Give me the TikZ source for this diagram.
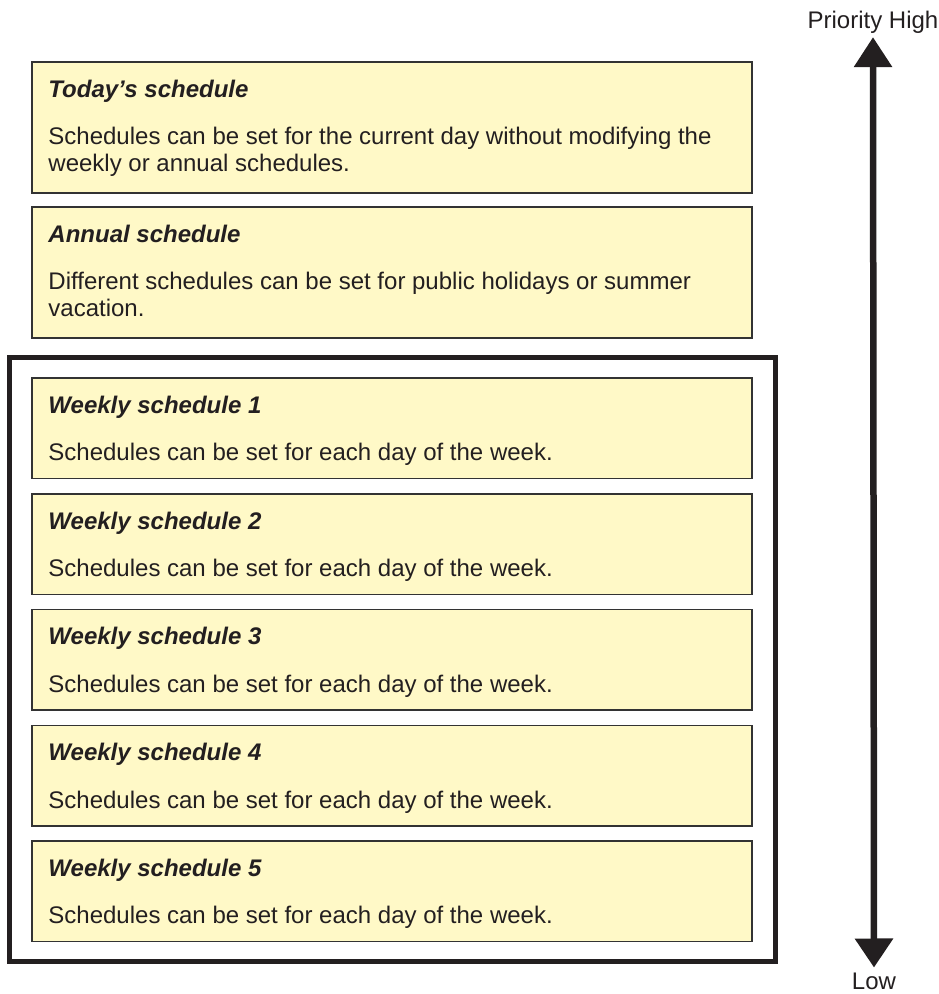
\documentclass[tikz,border=0pt]{standalone}
\usepackage{fontspec}
\setmainfont{Liberation Sans}
\usepackage{xcolor}
\usepackage{tikz}
\usetikzlibrary{arrows.meta, positioning}
\definecolor{boxfill}{RGB}{255,249,199}
\definecolor{boxline}{RGB}{51,51,51}
\definecolor{inkcolor}{RGB}{35,31,32}
\newcommand{\bodyfont}{\fontsize{24}{27}\selectfont}
\newcommand{\titlefont}{\fontsize{24}{27}\selectfont\bfseries\itshape}
\tikzset{
    boxnode/.style = {draw=boxline, fill=boxfill, rectangle, line width=1.5pt, minimum width=720pt, 
      inner sep=0em, node distance=0em},
    framenode/.style = {draw=inkcolor, fill=none, rectangle, line width=4.5pt, inner sep=0em, 
      minimum width=766pt, minimum height=604pt},
    titlenode/.style = {draw=none, fill=none, rectangle, inner sep=0em, anchor=base west, 
      text=inkcolor, font=\titlefont},
    textnode/.style = {draw=none, fill=none, rectangle, inner sep=0em, anchor=base west, 
      align=left, text=inkcolor, font=\bodyfont},
    labelnode/.style = {draw=none, fill=none, rectangle, inner sep=0em, anchor=base, 
      text=inkcolor, font=\bodyfont},
    priority/.style = {draw=inkcolor, line width=6.5pt, 
      {Triangle[length=30pt, width=37pt]}-{Triangle[length=29pt, width=37pt]}}
}

\begin{document}
\begin{tikzpicture}
\useasboundingbox (0,0) rectangle (939pt,-994pt);

% upper boxes
\node [boxnode, name=Today, minimum height=131pt] at (392pt,-127.5pt) {};
\node [boxnode, name=Annual, minimum height=131pt, below of=Today, yshift=-145pt] {};

% base of a two line text is its last line
\node [titlenode, name=TodayTitle] at ([xshift=17pt, yshift=-36pt]Today.north west) {Today’s schedule};
\node [textnode, name=TodayText] at ([xshift=17pt, yshift=-110.5pt]Today.north west) 
  {Schedules can be set for the current day without modifying the\\weekly or annual schedules.};

\node [titlenode, name=AnnualTitle] at ([xshift=17pt, yshift=-36pt]Annual.north west) {Annual schedule};
\node [textnode, name=AnnualText] at ([xshift=17pt, yshift=-110.5pt]Annual.north west) 
  {Different schedules can be set for public holidays or summer\\vacation.};

% weekly group
\node [framenode, name=Weekly] at (392.5pt,-659.5pt) {};

\node [boxnode, name=Week1, minimum height=100.5pt] at (392pt,-428.25pt) {};
\node [boxnode, name=Week2, minimum height=100.5pt, below of=Week1, yshift=-115.75pt] {};
\node [boxnode, name=Week3, minimum height=100.5pt, below of=Week2, yshift=-115.75pt] {};
\node [boxnode, name=Week4, minimum height=100.5pt, below of=Week3, yshift=-115.75pt] {};
\node [boxnode, name=Week5, minimum height=100.5pt, below of=Week4, yshift=-115.75pt] {};

\node [titlenode, name=Week1Title] at ([xshift=17pt, yshift=-36pt]Week1.north west) {Weekly schedule 1};
\node [textnode, name=Week1Text] at ([xshift=17pt, yshift=-83.5pt]Week1.north west) {Schedules can be set for each day of the week.};
\node [titlenode, name=Week2Title] at ([xshift=17pt, yshift=-36pt]Week2.north west) {Weekly schedule 2};
\node [textnode, name=Week2Text] at ([xshift=17pt, yshift=-83.5pt]Week2.north west) {Schedules can be set for each day of the week.};
\node [titlenode, name=Week3Title] at ([xshift=17pt, yshift=-36pt]Week3.north west) {Weekly schedule 3};
\node [textnode, name=Week3Text] at ([xshift=17pt, yshift=-83.5pt]Week3.north west) {Schedules can be set for each day of the week.};
\node [titlenode, name=Week4Title] at ([xshift=17pt, yshift=-36pt]Week4.north west) {Weekly schedule 4};
\node [textnode, name=Week4Text] at ([xshift=17pt, yshift=-83.5pt]Week4.north west) {Schedules can be set for each day of the week.};
\node [titlenode, name=Week5Title] at ([xshift=17pt, yshift=-36pt]Week5.north west) {Weekly schedule 5};
\node [textnode, name=Week5Text] at ([xshift=17pt, yshift=-83.5pt]Week5.north west) {Schedules can be set for each day of the week.};

% priority arrow
\node [labelnode, name=High] at (873pt,-28.5pt) {Priority High};
\node [labelnode, name=Low] at (874pt,-989pt) {Low};
\draw [priority] ([yshift=-3.5pt]High.south) -- ([yshift=4.8pt]Low.north);

\end{tikzpicture}
\end{document}
